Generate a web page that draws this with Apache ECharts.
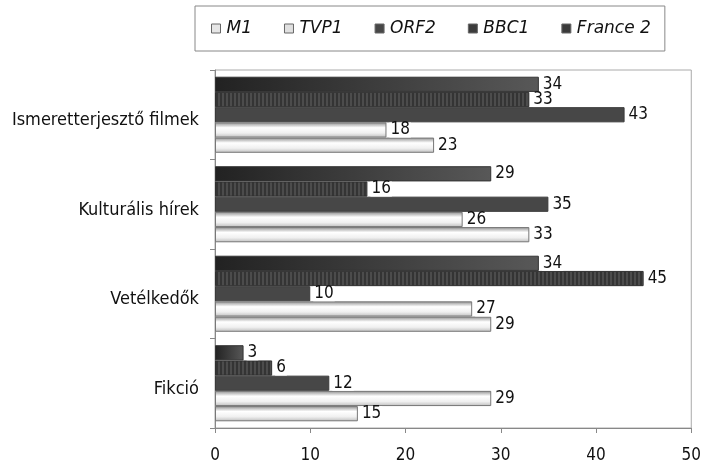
<!DOCTYPE html>
<html>
<head>
<meta charset="utf-8">
<script src="https://cdn.jsdelivr.net/npm/echarts@6/dist/echarts.min.js"></script>
<style>
html,body{margin:0;padding:0;background:#fff;}
#chart{width:704px;height:464px;}
</style>
</head>
<body>
<div id="chart"></div>
<script>
// Program types (bottom to top on the category axis)
const categories = ['Fikció', 'Vetélkedők', 'Kulturális hírek', 'Ismeretterjesztő filmek'];
const seriesNames = ['M1', 'TVP1', 'ORF2', 'BBC1', 'France 2'];
const m1 = [15, 29, 33, 23];
const tvp1 = [29, 27, 26, 18];
const orf2 = [12, 10, 35, 43];
const bbc1 = [6, 45, 16, 33];
const france2 = [3, 34, 29, 34];
const xTicks = [0, 10, 20, 30, 40, 50];

// vertical stripe fill for BBC1
function stripes() {
  const c = document.createElement('canvas');
  c.width = 4; c.height = 4;
  const g = c.getContext('2d');
  g.fillStyle = '#4c4c4c'; g.fillRect(0, 0, 4, 4);
  g.fillStyle = '#343434'; g.fillRect(0, 0, 2, 4);
  return c;
}

const lightFill = {
  type: 'linear', x: 0, y: 0, x2: 0, y2: 1,
  colorStops: [
    { offset: 0, color: '#8c8c8c' },
    { offset: 0.35, color: '#ffffff' },
    { offset: 0.7, color: '#f0f0f0' },
    { offset: 1, color: '#bdbdbd' }
  ]
};
const darkFade = {
  type: 'linear', x: 0, y: 0, x2: 1, y2: 0,
  colorStops: [
    { offset: 0, color: '#222222' },
    { offset: 1, color: '#585858' }
  ]
};

const styles = [
  { color: lightFill, borderColor: '#777', legendColor: '#e6e6e6' },
  { color: lightFill, borderColor: '#777', legendColor: '#e0e0e0' },
  { color: '#474747', borderColor: '#3a3a3a', legendColor: '#474747' },
  { color: { image: stripes(), repeat: 'repeat' }, borderColor: '#303030', legendColor: '#3c3c3c' },
  { color: darkFade, borderColor: '#333', legendColor: '#3a3a3a' }
];

const values = [m1, tvp1, orf2, bbc1, france2];

// series listed top-first so M1 sits at the bottom of each group
const order = [4, 3, 2, 1, 0];

const chart = echarts.init(document.getElementById('chart'));
chart.setOption({
  animation: false,
  backgroundColor: '#fff',
  textStyle: { fontFamily: 'DejaVu Sans Condensed' },
  legend: {
    data: seriesNames.map((n, i) => ({
      name: n,
      icon: 'rect',
      itemStyle: { color: styles[i].legendColor, borderColor: '#666', borderWidth: 1 }
    })),
    left: 195,
    top: 6,
    padding: [14, 14, 14, 16],
    itemWidth: 9,
    itemHeight: 9,
    itemGap: 32,
    borderColor: '#888',
    borderWidth: 1,
    textStyle: { fontSize: 17, fontStyle: 'italic', color: '#111', fontFamily: 'DejaVu Sans', padding: [0, 0, 0, 1] }
  },
  grid: {
    left: 215, right: 11, top: 70, bottom: 36,
    show: true, borderColor: '#aaa', borderWidth: 1
  },
  xAxis: {
    type: 'value', min: 0, max: 50, interval: 10,
    axisLine: { show: true, lineStyle: { color: '#888' } },
    axisTick: { show: true, length: 5, lineStyle: { color: '#888' } },
    splitLine: { show: false },
    axisLabel: {
      fontSize: 17, color: '#111', margin: 19,
      formatter: v => xTicks.includes(v) ? String(v) : ''
    }
  },
  yAxis: {
    type: 'category', data: categories,
    axisLine: { show: true, lineStyle: { color: '#888' } },
    axisTick: { show: true, length: 5, lineStyle: { color: '#888' } },
    axisLabel: { fontSize: 18, color: '#111', margin: 16, verticalAlign: 'top', lineHeight: 12 }
  },
  series: order.map(i => ({
    name: seriesNames[i],
    type: 'bar',
    data: values[i],
    barGap: '0%',
    barCategoryGap: '15%',
    itemStyle: { color: styles[i].color, borderColor: styles[i].borderColor, borderWidth: 1 },
    label: {
      show: true, position: 'right', distance: 3,
      fontSize: 17, lineHeight: 15, color: '#111', backgroundColor: '#fff', padding: [0, 1, 0, 1]
    }
  }))
});
</script>
</body>
</html>
